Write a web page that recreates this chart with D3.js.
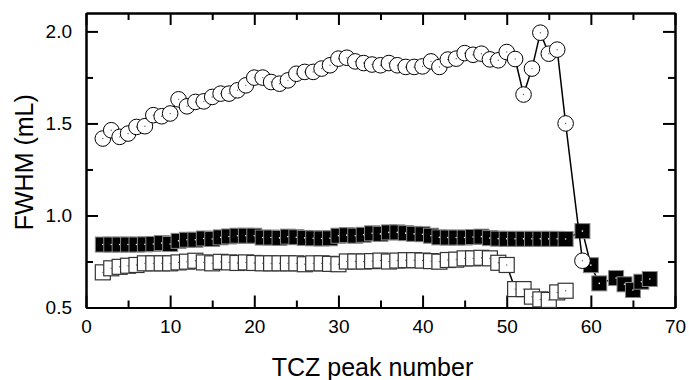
<!DOCTYPE html>
<html>
<head>
<meta charset="utf-8">
<script src="https://cdn.jsdelivr.net/npm/d3@7"></script>
<style>
  body { margin: 0; background: #fff; }
  text { font-family: "Liberation Sans", Arial, sans-serif; fill: #000; }
</style>
</head>
<body>
<figure id="chart" style="margin:0"></figure>
<script>
// circles (top series)
const circleX = [2,3,4,5,6,7,8,9,10,11,12,13,14,15,16,17,18,19,20,21,22,23,24,25,26,27,28,29,30,31,32,33,34,35,36,37,38,39,40,41,42,43,44,45,46,47,48,49,50,51,52,53,54,55,56,57,59]
const circleY = [1.418,1.463,1.427,1.445,1.481,1.485,1.545,1.539,1.554,1.631,1.593,1.617,1.62,1.644,1.662,1.662,1.68,1.707,1.749,1.749,
  1.725,1.716,1.734,1.77,1.78,1.78,1.798,1.816,1.852,1.857,1.837,1.828,1.82,1.816,1.828,1.816,1.807,1.807,1.81,1.837,
  1.807,1.847,1.852,1.882,1.873,1.879,1.848,1.843,1.888,1.85,1.657,1.798,1.993,1.879,1.901,1.5,0.754]

// filled squares
const filledX = [2,3,4,5,6,7,8,9,10,11,12,13,14,15,16,17,18,19,20,21,22,23,24,25,26,27,28,29,30,31,32,33,34,35,36,37,38,39,40,41,42,43,44,45,46,47,48,49,50,51,52,53,54,55,56,57,59,60,61,63,64,65,66,67]
const filledY = [0.842,0.842,0.842,0.842,0.842,0.843,0.845,0.85,0.845,0.862,0.868,0.868,0.875,0.872,0.881,0.886,0.89,0.89,0.89,0.88,
  0.88,0.878,0.885,0.882,0.878,0.876,0.875,0.876,0.89,0.893,0.89,0.895,0.903,0.9,0.908,0.908,0.904,0.9,0.898,0.89,
  0.881,0.88,0.88,0.88,0.883,0.885,0.877,0.874,0.873,0.873,0.873,0.873,0.873,0.873,0.873,0.872,0.915,0.73,0.631,0.66,
  0.626,0.595,0.64,0.655]

// open squares
const openX = [2,3,4,5,6,7,8,9,10,11,12,13,14,15,16,17,18,19,20,21,22,23,24,25,26,27,28,29,30,31,32,33,34,35,36,37,38,39,40,41,42,43,44,45,46,47,48,49,50,51,52,53,54,55,56,57]
const openY = [0.691,0.713,0.721,0.727,0.731,0.74,0.74,0.74,0.74,0.745,0.749,0.754,0.745,0.74,0.748,0.745,0.742,0.745,0.742,0.74,
  0.74,0.74,0.74,0.74,0.735,0.74,0.74,0.737,0.735,0.75,0.75,0.75,0.752,0.755,0.75,0.755,0.757,0.757,0.755,0.752,
  0.749,0.758,0.76,0.767,0.767,0.77,0.767,0.743,0.731,0.6,0.6,0.559,0.544,0.541,0.582,0.591]

const xTicks = [0,10,20,30,40,50,60,70]
const xMinor = [5,15,25,35,45,55,65]
const yTicks = [0.5,1.0,1.5,2.0]
const yMinor = [0.75,1.25,1.75]

const W = 689, H = 380
const margin = { left: 86, right: 14, top: 13, bottom: 72.5 }
const width = W - margin.left - margin.right
const height = H - margin.top - margin.bottom

const svg = d3.select("figure#chart")
  .append("svg")
  .attr("width", W)
  .attr("height", H)
  .append("g")
  .attr("transform", "translate(" + margin.left + "," + margin.top + ")")

const x = d3.scaleLinear().domain([0, 70]).range([0, width])
const y = d3.scaleLinear().domain([0.5, 2.1]).range([height, 0])

// axes: major + minor ticks on all four sides, pointing inward
function axisGroup(axis, tx, ty) {
  const g = svg.append("g")
    .attr("transform", "translate(" + tx + "," + ty + ")")
    .call(axis)
  g.select(".domain").attr("stroke-width", 2)
  g.selectAll(".tick line").attr("stroke-width", 2)
  return g
}

const bottom = axisGroup(d3.axisBottom(x).tickValues(xTicks).tickSize(-12).tickSizeOuter(0).tickPadding(12).tickFormat(d3.format("d")), 0, height)
axisGroup(d3.axisBottom(x).tickValues(xMinor).tickSize(-7).tickSizeOuter(0).tickFormat(""), 0, height)
axisGroup(d3.axisTop(x).tickValues(xTicks).tickSize(-12).tickSizeOuter(0).tickFormat(""), 0, 0)
axisGroup(d3.axisTop(x).tickValues(xMinor).tickSize(-7).tickSizeOuter(0).tickFormat(""), 0, 0)
const left = axisGroup(d3.axisLeft(y).tickValues(yTicks).tickSize(-12).tickSizeOuter(0).tickPadding(14).tickFormat(d3.format(".1f")), 0, 0)
axisGroup(d3.axisLeft(y).tickValues(yMinor).tickSize(-7).tickSizeOuter(0).tickFormat(""), 0, 0)
axisGroup(d3.axisRight(y).tickValues(yTicks).tickSize(-12).tickSizeOuter(0).tickFormat(""), width, 0)
axisGroup(d3.axisRight(y).tickValues(yMinor).tickSize(-7).tickSizeOuter(0).tickFormat(""), width, 0)

bottom.selectAll("text").style("font-size", "19px").attr("fill", "#000")
left.selectAll("text").style("font-size", "19px").attr("fill", "#000")

// axis titles
svg.append("text")
  .attr("text-anchor", "middle")
  .attr("x", width / 2 - 8)
  .attr("y", height + 68)
  .style("font-size", "25px")
  .text("TCZ peak number")

svg.append("text")
  .attr("text-anchor", "middle")
  .attr("transform", "translate(" + (-53) + "," + (height / 2 + 2) + ") rotate(-90)")
  .style("font-size", "25px")
  .text("FWHM (mL)")

const line = d3.line().x((d) => x(d[0])).y((d) => y(d[1]))
const pts = (xs, ys) => xs.map((v, i) => [v, ys[i]])

const openData = pts(openX, openY)
const filledData = pts(filledX, filledY)
const circleData = pts(circleX, circleY)

// open squares
svg.append("path").datum(openData)
  .attr("fill", "none").attr("stroke", "#000").attr("stroke-width", 1.5)
  .attr("d", line)
const os = svg.append("g").selectAll("g").data(openData).join("g")
os.append("rect")
  .attr("x", (d) => x(d[0]) - 7.5).attr("y", (d) => y(d[1]) - 7.5)
  .attr("width", 15).attr("height", 15)
  .attr("fill", "#fff").attr("stroke", "#333").attr("stroke-width", 1.2)
os.append("circle")
  .attr("cx", (d) => x(d[0])).attr("cy", (d) => y(d[1])).attr("r", 0.7)
  .attr("fill", "#666")

// filled squares
svg.append("path").datum(filledData)
  .attr("fill", "none").attr("stroke", "#000").attr("stroke-width", 1.5)
  .attr("d", line)
const fs = svg.append("g").selectAll("g").data(filledData).join("g")
fs.append("rect")
  .attr("x", (d) => x(d[0]) - 7.5).attr("y", (d) => y(d[1]) - 7.5)
  .attr("width", 15).attr("height", 15)
  .attr("fill", "#000").attr("stroke", "#888").attr("stroke-width", 1)
fs.append("circle")
  .attr("cx", (d) => x(d[0])).attr("cy", (d) => y(d[1])).attr("r", 0.8)
  .attr("fill", "#fff")

// circles
svg.append("path").datum(circleData)
  .attr("fill", "none").attr("stroke", "#000").attr("stroke-width", 1.5)
  .attr("d", line)
const cs = svg.append("g").selectAll("g").data(circleData).join("g")
cs.append("circle")
  .attr("cx", (d) => x(d[0])).attr("cy", (d) => y(d[1])).attr("r", 7.8)
  .attr("fill", "#fff").attr("stroke", "#000").attr("stroke-width", 1)
cs.append("circle")
  .attr("cx", (d) => x(d[0])).attr("cy", (d) => y(d[1])).attr("r", 0.7)
  .attr("fill", "#666")
</script>
</body>
</html>
